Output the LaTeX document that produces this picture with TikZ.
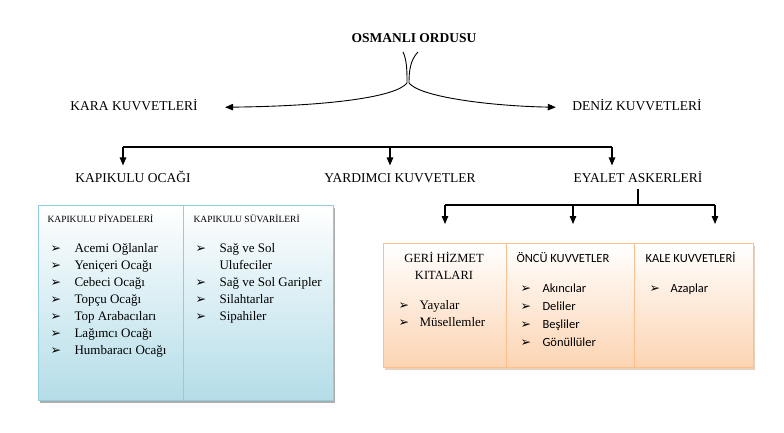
\documentclass[tikz,border=0pt]{standalone}
\usepackage{fontspec}
\setmainfont{Liberation Serif}
\newfontfamily\calib{Carlito}
\newfontfamily\symf{DejaVu Sans}
\usetikzlibrary{arrows.meta,shadows}

\definecolor{blueedge}{RGB}{146,205,220}
\definecolor{bluefill}{RGB}{180,221,232}
\definecolor{peachedge}{RGB}{250,192,143}
\definecolor{peachfill}{RGB}{252,212,178}

\newcommand{\bul}[1][24pt]{\makebox[#1][l]{\symf\bfseries\fontsize{12.5}{12.5}\selectfont ➢}}

\tikzstyle{lbl} = [font=\fontsize{13.5}{16}\selectfont, text height=10pt,
    text depth=3pt, inner sep=3pt]
\tikzstyle{bluecol} = [rectangle, draw=blueedge, line width=0.9pt, top color=white,
    bottom color=bluefill, minimum height=195pt, outer sep=0pt, anchor=north west,
    drop shadow={shadow xshift=2pt, shadow yshift=-2.5pt, fill=black!40, opacity=.8}]
\tikzstyle{peachcol} = [rectangle, draw=peachedge, line width=0.9pt, top color=white,
    bottom color=peachfill, minimum height=124pt, outer sep=0pt, anchor=north west,
    drop shadow={shadow xshift=2pt, shadow yshift=-2.5pt, fill=brown!50, opacity=.7}]
\tikzstyle{boxhdr} = [font=\fontsize{9.5}{12}\selectfont, anchor=base west, inner sep=0pt]
\tikzstyle{items} = [font=\fontsize{13}{17}\selectfont, align=left, anchor=base west,
    inner sep=0pt]
\tikzstyle{sitems} = [font=\calib\fontsize{12.5}{18}\selectfont, align=left,
    anchor=base west, inner sep=0pt]

\begin{document}
\begin{tikzpicture}[x=1pt,y=-1pt,line width=1.1pt,
                    >={Triangle[length=8pt,width=6.5pt]}]
  \useasboundingbox (0,0) rectangle (784,433);

  % top levels
  \node[lbl,anchor=base,font=\bfseries\fontsize{13.5}{16}\selectfont] (osm) at (414,43) {OSMANLI ORDUSU};
  \node[lbl,anchor=base] (kara)   at (134,111) {KARA KUVVETLERİ};
  \node[lbl,anchor=base] (deniz)  at (637,111) {DENİZ KUVVETLERİ};
  \node[lbl,anchor=base] (ocak)   at (133,182) {KAPIKULU OCAĞI};
  \node[lbl,anchor=base] (yard)   at (400,182) {YARDIMCI KUVVETLER};
  \node[lbl,anchor=base] (eyalet) at (638,182) {EYALET ASKERLERİ};

  % brace under the title
  \coordinate (brL) at (403,52);
  \coordinate (brR) at (418,52);
  \draw[->,line width=0.9pt,shorten >=24pt] (brL) .. controls (407,60) and (407,72) .. (407,83)
     .. controls (396,97) and (330,106) .. (kara.east);
  \draw[->,line width=0.9pt,shorten >=13pt] (brR) .. controls (410,60) and (409,72) .. (409,83)
     .. controls (420,97) and (490,106) .. (deniz.west);

  % bar over the second level
  \coordinate (b1) at (123,147);
  \coordinate (b2) at (390,147);
  \coordinate (b3) at (612,147);
  \draw (b1) -- (b3);
  \draw[->,shorten >=3pt] (b1) -- (b1 |- ocak.north);
  \draw[->,shorten >=3pt] (b2) -- (b2 |- yard.north);
  \draw[->,shorten >=3pt] (b3) -- (b3 |- eyalet.north);

  % kapikulu box (multi-line nodes sit on their last baseline)
  \node[bluecol,minimum width=145pt] (piycol) at (38,205) {};
  \node[bluecol,minimum width=150pt] (suvcol) at (piycol.north east) {};
  \node[boxhdr] (piyhdr) at (47,222) {KAPIKULU PİYADELERİ};
  \node[boxhdr] (suvhdr) at (193,222) {KAPIKULU SÜVARİLERİ};
  \node[items] (piylist) at (50,354) {\bul Acemi Oğlanlar\\ \bul Yeniçeri Ocağı\\
    \bul Cebeci Ocağı\\ \bul Topçu Ocağı\\ \bul Top Arabacıları\\ \bul Lağımcı Ocağı\\
    \bul Humbaracı Ocağı};
  \node[items] (suvlist) at (195,320) {\bul Sağ ve Sol\\ \makebox[24pt]{}Ulufeciler\\
    \bul Sağ ve Sol Garipler\\ \bul Silahtarlar\\ \bul Sipahiler};

  % eyalet box
  \coordinate (e1) at (445,205);
  \coordinate (e2) at (573,205);
  \coordinate (e3) at (715,205);
  \node[peachcol,minimum width=123pt] (gericol) at (383,243) {};
  \node[peachcol,minimum width=128pt] (oncucol) at (gericol.north east) {};
  \node[peachcol,minimum width=119pt] (kalecol) at (oncucol.north east) {};
  \draw (eyalet.south) -- (eyalet.south |- e1);
  \draw (e1) -- (e3);
  \draw[->,shorten >=19pt] (e1) -- (e1 |- gericol.north);
  \draw[->,shorten >=19pt] (e2) -- (e2 |- oncucol.north);
  \draw[->,shorten >=19pt] (e3) -- (e3 |- kalecol.north);

  \node[items,anchor=base,align=center,font=\fontsize{12.5}{17}\selectfont] (gerihdr) at (444,279) {GERİ HİZMET\\KITALARI};
  \node[sitems] (oncuhdr) at (516,262) {ÖNCÜ KUVVETLER};
  \node[sitems] (kalehdr) at (645,262) {KALE KUVVETLERİ};
  \node[items] (gerilist) at (398,326) {\bul[21pt]Yayalar\\ \bul[21pt]Müsellemler};
  \node[sitems] (onculist) at (520,346) {\bul[22pt]Akıncılar\\ \bul[22pt]Deliler\\
    \bul[22pt]Beşliler\\ \bul[22pt]Gönüllüler};
  \node[sitems] (kalelist) at (649,292) {\bul[21pt]Azaplar};
\end{tikzpicture}
\end{document}
